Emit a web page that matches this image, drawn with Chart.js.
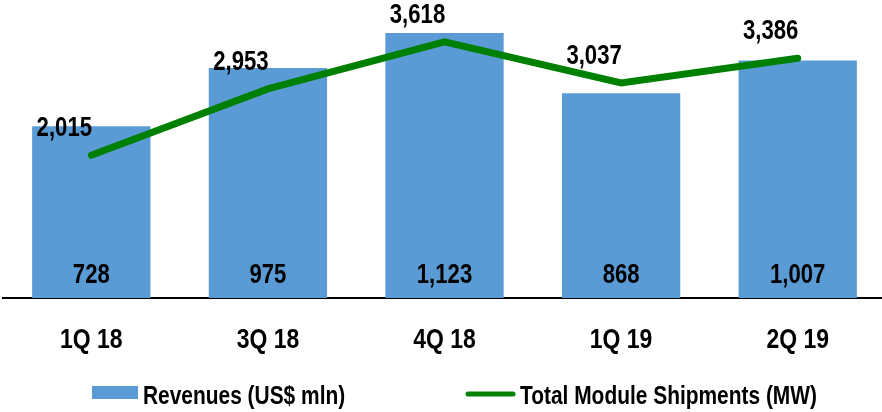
<!DOCTYPE html>
<html>
<head>
<meta charset="utf-8">
<script src="https://cdn.jsdelivr.net/npm/chart.js@4.4.1/dist/chart.umd.min.js"></script>
<style>
  html, body { margin: 0; padding: 0; background: #ffffff; overflow: hidden; }
  #wrap { position: relative; width: 890px; height: 412px; }
</style>
</head>
<body>
<div id="wrap"><canvas id="c"></canvas></div>
<script>
const categories = ["1Q 18", "3Q 18", "4Q 18", "1Q 19", "2Q 19"];
const revenues = [728, 975, 1123, 868, 1007];
const shipments = [2015, 2953, 3618, 3037, 3386];
const revenueLabel = "Revenues (US$ mln)";
const shipmentLabel = "Total Module Shipments (MW)";

const FONT = "'Liberation Sans', Arial, sans-serif";
const NARROW = 0.82;
const BLUE = "#5B9BD5";
const GREEN = "#008000";

const fmt = v => v.toLocaleString("en-US");

function narrowText(ctx, str, x, y, size, align) {
  ctx.save();
  ctx.font = "bold " + size + "px " + FONT;
  ctx.textAlign = align;
  ctx.textBaseline = "alphabetic";
  ctx.translate(x, y);
  ctx.scale(NARROW, 1);
  ctx.fillText(str, 0, 0);
  ctx.restore();
}

const labelPlugin = {
  id: "labels",
  afterDatasetsDraw(chart) {
    const ctx = chart.ctx;
    ctx.save();
    ctx.fillStyle = "#000";
    const xs = chart.scales.x;
    // category tick labels
    categories.forEach((c, i) => {
      narrowText(ctx, c, xs.getPixelForValue(i), 348, 28, "center");
    });
    // bar value labels
    chart.getDatasetMeta(1).data.forEach((bar, i) => {
      narrowText(ctx, fmt(revenues[i]), bar.x, bar.base - 15, 27, "center");
    });
    // line value labels
    chart.getDatasetMeta(0).data.forEach((pt, i) => {
      narrowText(ctx, fmt(shipments[i]), pt.x - 27, pt.y - 19, 27, "center");
    });
    // legend
    ctx.fillStyle = BLUE;
    ctx.fillRect(92, 386, 46, 13);
    ctx.fillStyle = "#000";
    narrowText(ctx, revenueLabel, 143, 404, 25.5, "left");
    ctx.strokeStyle = GREEN;
    ctx.lineWidth = 5;
    ctx.lineCap = "round";
    ctx.beginPath();
    ctx.moveTo(468, 394);
    ctx.lineTo(513, 394);
    ctx.stroke();
    ctx.fillStyle = "#000";
    narrowText(ctx, shipmentLabel, 520, 404, 25.5, "left");
    ctx.restore();
  }
};

new Chart(document.getElementById("c"), {
  data: {
    labels: categories,
    datasets: [
      {
        type: "line",
        label: shipmentLabel,
        data: shipments,
        yAxisID: "y2",
        borderColor: GREEN,
        backgroundColor: GREEN,
        borderWidth: 7,
        borderCapStyle: "round",
        borderJoinStyle: "miter",
        pointRadius: 0,
        tension: 0,
        order: 0,
        clip: false
      },
      {
        type: "bar",
        label: revenueLabel,
        data: revenues,
        yAxisID: "y",
        backgroundColor: BLUE,
        borderWidth: 0,
        categoryPercentage: 1,
        barPercentage: 0.67,
        order: 1
      }
    ]
  },
  options: {
    responsive: true,
    maintainAspectRatio: false,
    animation: false,
    layout: { padding: { left: 3, right: 4, top: 0, bottom: 0 } },
    plugins: { legend: { display: false }, tooltip: { enabled: false } },
    scales: {
      x: {
        grid: { display: false, drawTicks: false },
        border: { display: true, color: "#000", width: 2 },
        ticks: { display: false },
        afterFit(scale) { scale.height = 114; }
      },
      y: { display: false, min: 0, max: 1263 },
      y2: { display: false, min: 0, max: 4209, position: "right" }
    }
  },
  plugins: [labelPlugin]
});
</script>
</body>
</html>
